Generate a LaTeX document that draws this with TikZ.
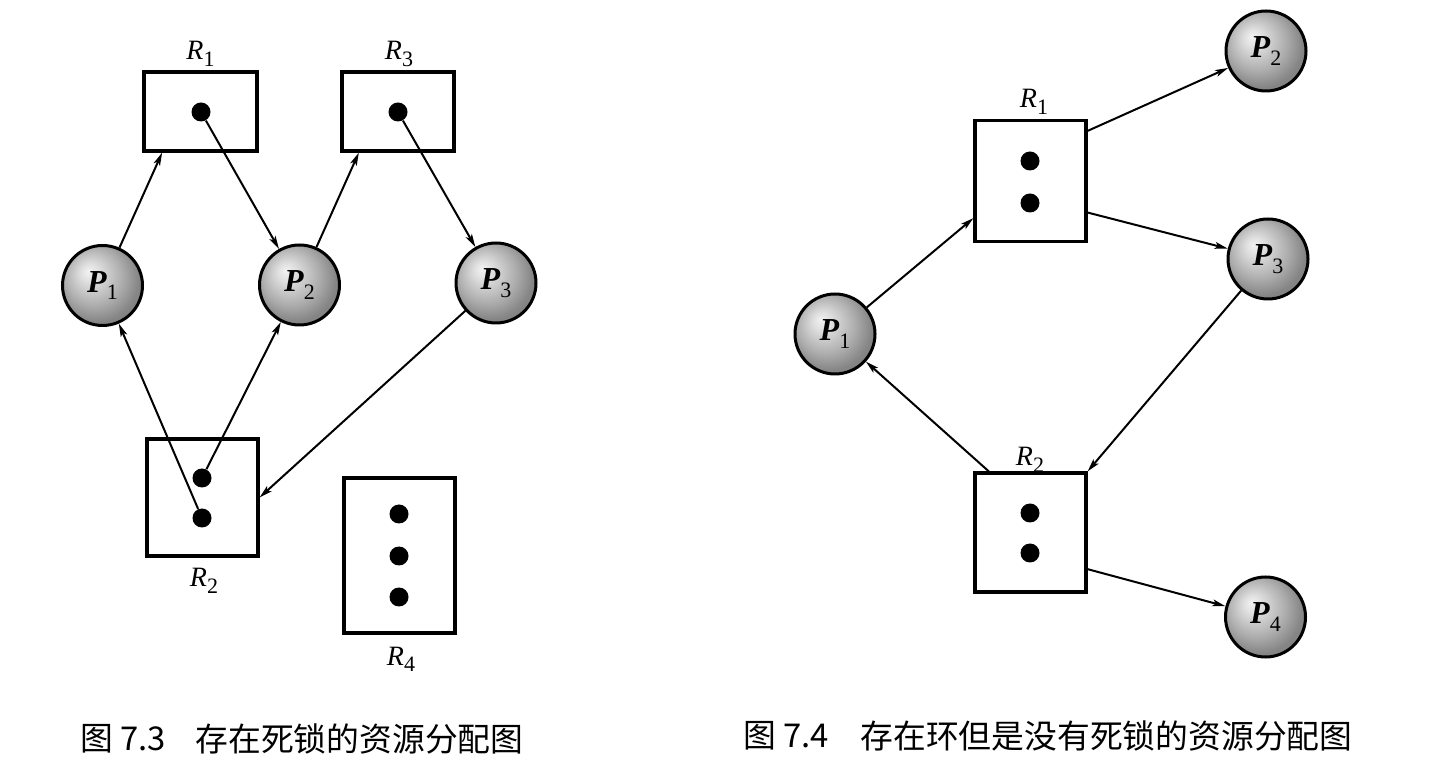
\documentclass[tikz,border=0pt]{standalone}
\usepackage{fontspec}
\setmainfont{Liberation Serif}
\newfontfamily\cjk{Noto Sans CJK SC}
\usetikzlibrary{arrows.meta,calc}
\pgfdeclareradialshading{procball}{\pgfpoint{-9bp}{9bp}}{color(0bp)=(black!5); color(6bp)=(black!13); color(18bp)=(black!32); color(27bp)=(black!48); color(50bp)=(black!50)}
\newcommand\RSub[1]{\raisebox{-3.2pt}{\fontsize{11}{12}\selectfont\upshape #1}}
\newcommand\PSub[1]{\raisebox{-3.8pt}{\fontsize{11}{12}\selectfont\mdseries\upshape #1}}
\tikzset{
  proc/.style={circle, draw, line width=1.5pt, minimum size=40pt, inner sep=0pt, shading=procball, font=\bfseries\itshape\fontsize{16}{17}\selectfont},
  res/.style={rectangle, draw, line width=1.6pt, fill=white, inner sep=0pt},
  tok/.style={circle, fill=black, minimum size=9.5pt, inner sep=0pt},
  rlab/.style={anchor=base, inner sep=0pt, font=\itshape\fontsize{14}{15}\selectfont},
  arr/.style={line width=1pt, -{Stealth[length=6.5pt,width=3.4pt,inset=1.5pt]}},
  captext/.style={anchor=west, inner sep=0pt, font=\cjk\fontsize{16.4}{18}\selectfont}
}
\begin{document}
\begin{tikzpicture}[x=0.5pt,y=-0.5pt]
\useasboundingbox (0,0) rectangle (1444,779);
% ---------- Figure 7.3 ----------
\node[res, minimum width=56.5pt, minimum height=39.5pt] (R1) at (200.5,111.5) {};
\node[res, minimum width=56pt, minimum height=39.5pt] (R3) at (398,111.5) {};
\node[res, minimum width=55.5pt, minimum height=58.5pt] (R2) at (202.5,497.5) {};
\node[res, minimum width=55.5pt, minimum height=77.5pt] (R4) at (399.5,555.5) {};
\node[tok] (d11) at (201,112) {};
\node[tok] (d31) at (398,112) {};
\node[tok] (d21) at (202,478) {};
\node[tok] (d22) at (202,518) {};
\node[tok] (d41) at (399,514) {};
\node[tok] (d42) at (399,556) {};
\node[tok] (d43) at (399,597) {};
\node[rlab] (lR1) at (200.5,60) {R\RSub{1}};
\node[rlab] (lR3) at (399,60) {R\RSub{3}};
\node[rlab] (lR2) at (204,587) {R\RSub{2}};
\node[rlab] (lR4) at (401,665) {R\RSub{4}};
\node[proc] (P1) at (102.5,285.5) {P\PSub{1}};
\node[proc] (P2) at (299.5,285) {P\PSub{2}};
\node[proc] (P3) at (496,283) {P\PSub{3}};
\draw[arr] (P1) -- ($(R1.south west)!0.17!(R1.south east)$);
\draw[arr] (d11) -- (P2);
\draw[arr] (P2) -- ($(R3.south west)!0.16!(R3.south east)$);
\draw[arr] (d31) -- (P3);
\draw[arr] (d22) -- (P1);
\draw[arr] (d21) -- (P2);
\draw[arr] (P3) -- (R2.east);
% ---------- Figure 7.4 ----------
\node[res, minimum width=55.5pt, minimum height=60.25pt] (S1) at (1030.5,181) {};
\node[res, minimum width=55.5pt, minimum height=59.5pt] (S2) at (1030.5,532.5) {};
\node[tok] (e11) at (1030,161) {};
\node[tok] (e12) at (1030,203) {};
\node[tok] (e21) at (1030,513) {};
\node[tok] (e22) at (1030,553) {};
\node[rlab] (lS1) at (1034,108) {R\RSub{1}};
\node[rlab] (lS2) at (1030,466) {R\RSub{2}};
\node[proc] (Q1) at (835,334) {P\PSub{1}};
\node[proc] (Q2) at (1266,51) {P\PSub{2}};
\node[proc] (Q3) at (1268,259) {P\PSub{3}};
\node[proc] (Q4) at (1265.5,617) {P\PSub{4}};
\draw[arr] (Q1) -- ($(S1.north west)!0.8!(S1.south west)$);
\draw[arr] ($(S1.north east)!0.095!(S1.south east)$) -- (Q2);
\draw[arr] ($(S1.north east)!0.755!(S1.south east)$) -- (Q3);
\draw[arr] (Q3) -- (S2.north east);
\draw[arr] ($(S2.north west)!0.135!(S2.north east)$) -- (Q1);
\draw[arr] ($(S2.north east)!0.8!(S2.south east)$) -- (Q4);
% ---------- Captions ----------
\node[captext] (c1a) at (80,739) {图 7.3};
\node[captext] (c1b) at (195,739) {存在死锁的资源分配图};
\node[captext] (c2a) at (743,736) {图 7.4};
\node[captext] (c2b) at (860,736) {存在环但是没有死锁的资源分配图};
\end{tikzpicture}
\end{document}
